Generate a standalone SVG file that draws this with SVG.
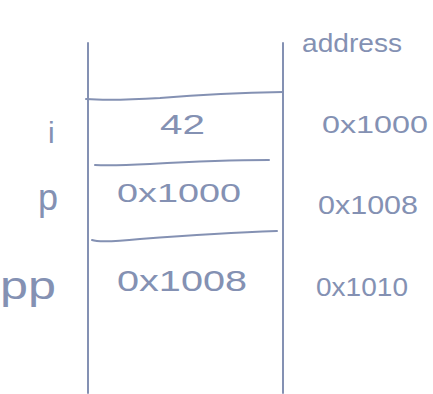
<svg xmlns="http://www.w3.org/2000/svg" width="433" height="394" viewBox="0 0 433 394">
<style>
.ln{fill:none;stroke:#8491b3;stroke-width:2;stroke-linecap:round}
.t{font-family:"Liberation Sans",sans-serif;fill:#8491b3;font-weight:normal}
</style>
<rect width="433" height="394" fill="#ffffff"/>
<g id="connectors">
<path class="ln" d="M88,43 L88,393"/>
<path class="ln" d="M283,43 L283,393"/>
<path class="ln" d="M86,99 Q110,101 160,98 Q220,93 283,92"/>
<path class="ln" d="M95,165 Q110,166 150,164 Q220,160 269,160"/>
<path class="ln" d="M92,240 Q100,243 140,239 Q220,233 277,231"/>
</g>
<g id="header"><text class="t" x="302" y="52" font-size="26" textLength="100" lengthAdjust="spacingAndGlyphs">address</text></g>
<g id="row-i">
<text class="t" x="48" y="143" font-size="30">i</text>
<text class="t" x="160" y="134" font-size="28" textLength="45" lengthAdjust="spacingAndGlyphs">42</text>
<text class="t" x="322" y="133" font-size="24" textLength="106" lengthAdjust="spacingAndGlyphs">0x1000</text>
</g>
<g id="row-p">
<text class="t" x="38" y="210" font-size="36">p</text>
<text class="t" x="117" y="202" font-size="26" textLength="124" lengthAdjust="spacingAndGlyphs">0x1000</text>
<text class="t" x="318" y="214" font-size="26" textLength="100" lengthAdjust="spacingAndGlyphs">0x1008</text>
</g>
<g id="row-pp">
<text class="t" x="0" y="299" font-size="38" textLength="56" lengthAdjust="spacingAndGlyphs">pp</text>
<text class="t" x="117" y="291" font-size="30" textLength="130" lengthAdjust="spacingAndGlyphs">0x1008</text>
<text class="t" x="316" y="296" font-size="26" textLength="92" lengthAdjust="spacingAndGlyphs">0x1010</text>
</g>
</svg>
